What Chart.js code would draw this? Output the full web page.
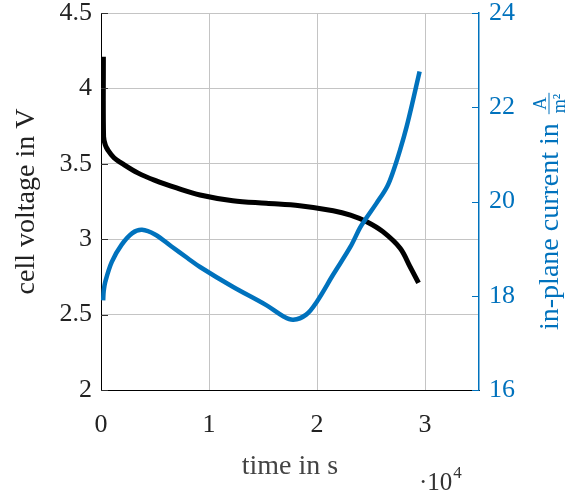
<!DOCTYPE html>
<html>
<head>
<meta charset="utf-8">
<script src="https://cdn.jsdelivr.net/npm/chart.js@4"></script>
<style>
  html, body { margin: 0; padding: 0; background: #fff; }
  #wrap { width: 580px; height: 493px; }
</style>
</head>
<body>
<div id="wrap"><canvas id="chart"></canvas></div>
<script>
// time in 1e4 s
const voltageTime = [0.022, 0.024, 0.04, 0.065, 0.12, 0.19, 0.34, 0.5, 0.7, 0.917, 1.22, 1.53, 1.84, 2.15, 2.31, 2.46, 2.61, 2.77, 2.86, 2.94];
const voltageValues = [4.21, 3.68, 3.625, 3.59, 3.54, 3.505, 3.44, 3.39, 3.34, 3.293, 3.255, 3.238, 3.222, 3.189, 3.16, 3.116, 3.05, 2.94, 2.82, 2.71];

const currentTime = [0.02, 0.025, 0.04, 0.1, 0.19, 0.29, 0.38, 0.5, 0.65, 0.8, 0.917, 1.22, 1.53, 1.69, 1.78, 1.9, 2.0, 2.15, 2.31, 2.4, 2.46, 2.55, 2.65, 2.71, 2.77, 2.83, 2.89, 2.95];
const currentValues = [17.9, 18.1, 18.3, 18.72, 19.08, 19.33, 19.4, 19.3, 19.05, 18.8, 18.61, 18.19, 17.8, 17.56, 17.49, 17.6, 17.88, 18.45, 19.04, 19.45, 19.66, 19.96, 20.32, 20.67, 21.1, 21.59, 22.16, 22.76];

const xTicks = [0, 1, 2, 3];
const voltageTicks = [2, 2.5, 3, 3.5, 4, 4.5];
const currentTicks = [16, 18, 20, 22, 24];

const blue = '#0072bd';
const serif = '"Liberation Serif", serif';

function toPoints(xs, ys) {
    return xs.map((x, i) => ({ x: x, y: ys[i] }));
}

function noPad(s) {
    s.paddingTop = 0;
    s.paddingBottom = 0;
}

// inward tick marks, right title with fraction, exponent label
const decorations = {
    id: 'decorations',
    afterDraw(chart) {
        const ctx = chart.ctx;
        const area = chart.chartArea;
        const y = chart.scales.y;
        const y1 = chart.scales.y1;
        ctx.save();
        ctx.lineWidth = 1;
        ctx.strokeStyle = '#333';
        for (let v of voltageTicks) {
            const py = Math.round(y.getPixelForValue(v)) + 0.5;
            ctx.beginPath();
            ctx.moveTo(area.left, py);
            ctx.lineTo(area.left + 7, py);
            ctx.stroke();
        }
        ctx.strokeStyle = blue;
        for (let v of currentTicks) {
            const py = Math.round(y1.getPixelForValue(v)) + 0.5;
            ctx.beginPath();
            ctx.moveTo(area.right, py);
            ctx.lineTo(area.right - 7, py);
            ctx.stroke();
        }

        // right axis title
        ctx.fillStyle = blue;
        ctx.translate(558, 330);
        ctx.rotate(-Math.PI / 2);
        ctx.font = '28px ' + serif;
        ctx.textBaseline = 'alphabetic';
        ctx.textAlign = 'left';
        const main = 'in-plane current in ';
        ctx.fillText(main, 0, 0);
        const fx = ctx.measureText(main).width + 2;
        ctx.font = '18px ' + serif;
        const fw = Math.max(ctx.measureText('A').width, ctx.measureText('m²').width) + 2;
        ctx.textAlign = 'center';
        ctx.fillText('A', fx + fw / 2, -12);
        ctx.fillText('m²', fx + fw / 2, 7);
        ctx.fillRect(fx, -9.5, fw, 1);
        ctx.restore();

        // exponent
        ctx.save();
        ctx.fillStyle = '#333';
        ctx.font = '25px ' + serif;
        ctx.textBaseline = 'alphabetic';
        ctx.textAlign = 'left';
        ctx.fillText('·10', 419, 490);
        const w = ctx.measureText('·10').width;
        ctx.font = '17px ' + serif;
        ctx.fillText('4', 419 + w + 1, 478);
        ctx.restore();
    }
};

const ctx = document.getElementById('chart');
//eslint-disable-next-line no-undef
new Chart(ctx, {
    type: 'line',
    data: {
        datasets: [{
            label: 'in-plane current',
            data: toPoints(currentTime, currentValues),
            yAxisID: 'y1',
            borderColor: blue,
            borderWidth: 4.5,
            pointRadius: 0,
            tension: 0.35,
            fill: false
        }, {
            label: 'cell voltage',
            data: toPoints(voltageTime, voltageValues),
            yAxisID: 'y',
            borderColor: '#000',
            borderWidth: 5,
            pointRadius: 0,
            tension: 0.35,
            fill: false
        }]
    },
    options: {
        responsive: true,
        maintainAspectRatio: false,
        animation: false,
        layout: { padding: { top: 13, left: 0, right: 0, bottom: 0 } },
        plugins: {
            legend: { display: false },
            tooltip: { enabled: false }
        },
        scales: {
            x: {
                type: 'linear',
                min: 0,
                max: 3.5,
                afterBuildTicks: s => { s.ticks = xTicks.map(v => ({ value: v })); },
                afterFit: s => { s.height = 103; s.paddingLeft = 0; s.paddingRight = 0; },
                grid: { color: '#c4c4c4', drawTicks: false },
                border: { color: '#000', width: 1 },
                ticks: { color: '#222', font: { family: serif, size: 26, lineHeight: 1 }, padding: 22, maxRotation: 0, callback: v => String(v) },
                title: { display: true, text: 'time in s', color: '#444', font: { family: serif, size: 28, lineHeight: 1 }, padding: { top: 0, bottom: 12 } }
            },
            y: {
                position: 'left',
                min: 2,
                max: 4.5,
                afterBuildTicks: s => { s.ticks = voltageTicks.map(v => ({ value: v })); },
                afterFit: s => { s.width = 101; noPad(s); },
                grid: { color: '#c4c4c4', drawTicks: false },
                border: { color: '#000', width: 1 },
                ticks: { color: '#222', font: { family: serif, size: 26, lineHeight: 1 }, padding: 9, callback: v => String(v) },
                title: { display: true, text: 'cell voltage in V', color: '#222', font: { family: serif, size: 28 }, padding: { top: 10, bottom: 0 } }
            },
            y1: {
                position: 'right',
                min: 16,
                max: 24,
                afterBuildTicks: s => { s.ticks = currentTicks.map(v => ({ value: v })); },
                afterFit: s => { s.width = 101; noPad(s); },
                grid: { display: false, drawTicks: false },
                border: { color: blue, width: 1.5 },
                ticks: { color: blue, font: { family: serif, size: 26, lineHeight: 1 }, padding: 10, callback: v => String(v) }
            }
        }
    },
    plugins: [decorations]
});
</script>
</body>
</html>
